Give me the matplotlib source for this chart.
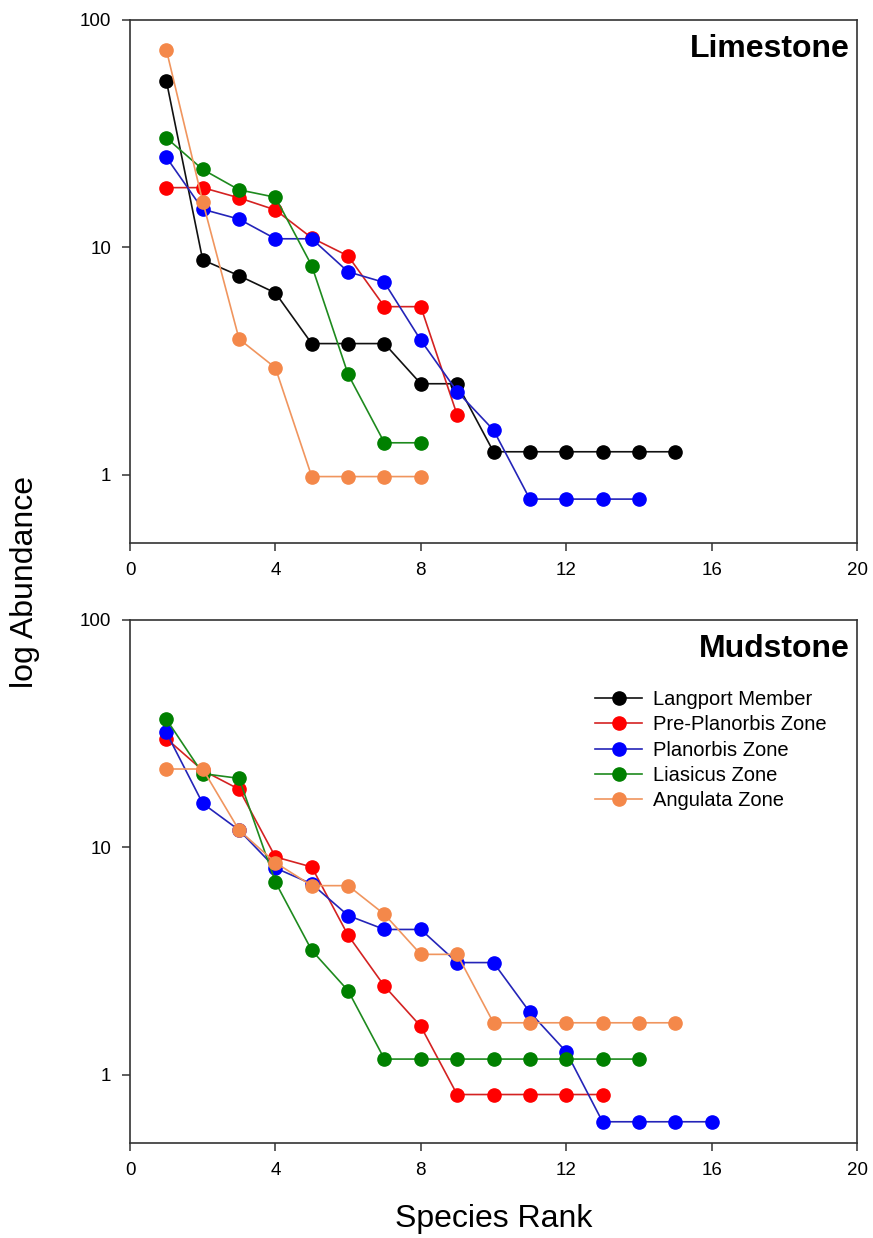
import matplotlib
matplotlib.use("Agg")
import matplotlib.pyplot as plt
from matplotlib.ticker import FixedLocator, FixedFormatter, NullLocator

plt.rcParams['font.family'] = ['Liberation Sans', 'DejaVu Sans']

series_names = ["Langport Member", "Pre-Planorbis Zone", "Planorbis Zone",
                "Liasicus Zone", "Angulata Zone"]
marker_colors = ["#000000", "#FF0000", "#0000FF", "#008000", "#F4884A"]
line_colors = ["#111111", "#D42222", "#2424B8", "#1E8A1E", "#F0955E"]

# Limestone abundances by species rank (rank starts at 1)
lime_langport = [54, 8.8, 7.5, 6.3, 3.77, 3.77, 3.77, 2.51, 2.51, 1.26, 1.26, 1.26, 1.26, 1.26, 1.26]
lime_preplan = [18.3, 18.3, 16.5, 14.6, 11.0, 9.16, 5.48, 5.48, 1.83]
lime_planorbis = [24.9, 14.7, 13.3, 10.9, 10.9, 7.8, 7.0, 3.9, 2.32, 1.57, 0.78, 0.78, 0.78, 0.78]
lime_liasicus = [30.3, 22.0, 17.9, 16.6, 8.3, 2.76, 1.38, 1.38]
lime_angulata = [74, 15.9, 3.95, 2.95, 0.98, 0.98, 0.98, 0.98]

# Mudstone abundances by species rank
mud_langport = []
mud_preplan = [30.1, 21.8, 18.0, 9.07, 8.19, 4.1, 2.45, 1.63, 0.817, 0.817, 0.817, 0.817, 0.817]
mud_planorbis = [32.0, 15.6, 11.9, 8.11, 6.9, 5.01, 4.35, 4.35, 3.11, 3.11, 1.88, 1.26, 0.62, 0.62, 0.62, 0.62]
mud_liasicus = [36.6, 21.1, 20.1, 7.03, 3.52, 2.34, 1.17, 1.17, 1.17, 1.17, 1.17, 1.17, 1.17, 1.17]
mud_angulata = [22.1, 22.1, 11.9, 8.56, 6.78, 6.78, 5.07, 3.38, 3.38, 1.69, 1.69, 1.69, 1.69, 1.69, 1.69]

x_ticks = [0, 4, 8, 12, 16, 20]
y_ticks = [1, 10, 100]
y_tick_labels = ["1", "10", "100"]

W, H = 873, 1238
fig = plt.figure(figsize=(W / 100, H / 100), dpi=100)

def px_axes(left, top, right, bottom):
    return fig.add_axes([left / W, 1 - bottom / H, (right - left) / W, (bottom - top) / H])

ax_top = px_axes(130, 20, 857, 543)
ax_bot = px_axes(130, 620, 857, 1143)

panels = [
    (ax_top, "Limestone", [lime_langport, lime_preplan, lime_planorbis, lime_liasicus, lime_angulata]),
    (ax_bot, "Mudstone", [mud_langport, mud_preplan, mud_planorbis, mud_liasicus, mud_angulata]),
]

for ax, title, data in panels:
    handles = []
    for name, vals, mc, lc in zip(series_names, data, marker_colors, line_colors):
        ranks = list(range(1, len(vals) + 1))
        h, = ax.plot(ranks, vals, '-', color=lc, lw=1.2, marker='o', ms=9.5,
                     markerfacecolor=mc, markeredgecolor=mc, label=name)
        handles.append(h)
    ax.set_yscale('log')
    ax.set_xlim(0, 20)
    ax.set_ylim(0.5, 100)
    ax.xaxis.set_major_locator(FixedLocator(x_ticks))
    ax.yaxis.set_major_locator(FixedLocator(y_ticks))
    ax.yaxis.set_major_formatter(FixedFormatter(y_tick_labels))
    ax.yaxis.set_minor_locator(NullLocator())
    ax.xaxis.set_minor_locator(NullLocator())
    ax.tick_params(direction='out', length=6, width=1.1, color='#333333',
                   labelsize=13.5, pad=7.5, top=False, right=False)
    for sp in ax.spines.values():
        sp.set_linewidth(1.2)
        sp.set_color('#333333')
    ax.text(0.99, 0.973, title, transform=ax.transAxes, ha='right', va='top',
            fontsize=23, fontweight='bold')
    if title == "Mudstone":
        ax.legend(handles=handles, loc='upper left', bbox_to_anchor=(0.64, 0.866),
                  frameon=False, fontsize=14.5, handlelength=2.34, labelspacing=0.31,
                  handletextpad=0.55, borderaxespad=0, borderpad=0)

fig.text(25 / W, 1 - 582 / H, "log Abundance", rotation=90, ha='center', va='center', fontsize=23)
fig.text(494 / W, 1 - 1219 / H, "Species Rank", ha='center', va='center', fontsize=23)

fig.savefig("out.png", dpi=100)
